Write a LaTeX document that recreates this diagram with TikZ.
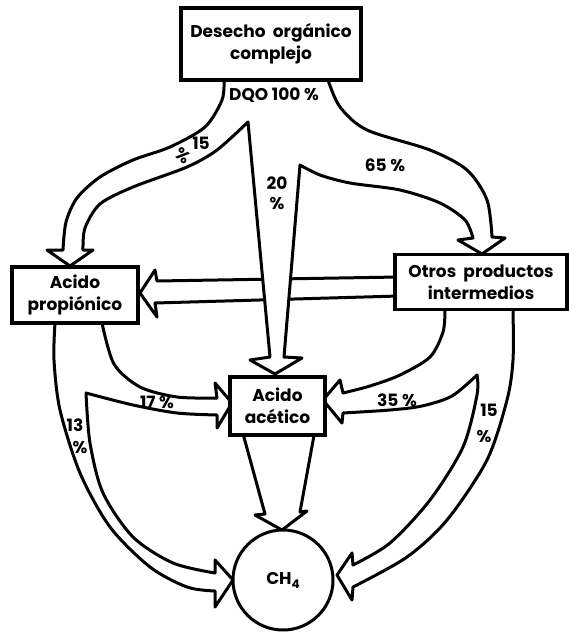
\documentclass[tikz,border=0pt]{standalone}
\usepackage{fontspec}
\setmainfont{Poppins}
\pgfdeclarelayer{bg}
\pgfsetlayers{bg,main}
\begin{document}
\begin{tikzpicture}[x=1pt,y=-1pt,
  box/.style={draw, line width=3.4pt, fill=white, align=center, inner sep=0pt,
              font=\fontsize{17}{22}\bfseries},
  band/.style={draw, line width=3pt, fill=white, line join=round},
  lbl/.style={font=\fontsize{17}{19}\bfseries, inner sep=0pt}]
\useasboundingbox (0,0) rectangle (569,637);

% boxes
\node[box, minimum width=180pt, minimum height=72pt] (top) at (271,44)
  {Desecho\ \ orgánico\\complejo};
\node[box, minimum width=126pt, minimum height=56pt] (prop) at (75,295)
  {Acido\\propiónico};
\node[box, minimum width=172pt, minimum height=55pt] (otros) at (481,282)
  {Otros\ \ productos\\intermedios};
\node[box, minimum width=95pt, minimum height=58pt] (acet) at (277.5,406)
  {Acido\\acético};
\node[box, circle, minimum size=100pt, line width=3pt] (ch4) at (283,580)
  {CH\raisebox{-4pt}{\fontsize{12}{12}\bfseries 4}};

\begin{pgfonlayer}{bg}
  % propionic acid fed from the intermediates
  \path[band] (399,277) -- (157,281) -- (155,270) -- (140,293) -- (157,317)
    -- (155,303) -- (399,296);
  % split of the waste stream: 15 %, 20 %, 65 %
  \path[band] (224,76)
    -- plot[smooth] coordinates {(224,80) (222,100) (205,127) (170,147) (133,160)
                                 (100,177) (77,198) (66,222) (63,250)}
    -- (47,250) -- (70,266) -- (93,250) -- (83,250)
    -- plot[smooth] coordinates {(83,250) (85,228) (100,204) (133,187) (187,167)
                                 (217,150) (248,122)}
    -- (270,357) -- (250,360) -- (275,374) -- (302,358) -- (284,357) -- (300,165)
    -- plot[smooth] coordinates {(300,165) (320,175) (350,183) (400,190) (440,203)
                                 (465,220) (473,238)}
    -- (458,240) -- (482,254) -- (505,238) -- (492,237)
    -- plot[smooth] coordinates {(492,237) (487,200) (467,170) (430,150) (367,130)
                                 (340,107) (328,80)}
    -- (328,76) -- cycle;
  % from propionic acid: 17 % to acetic acid, 13 % to methane
  \path[band] (55,318)
    -- plot[smooth] coordinates {(55,323) (54,360) (60,410) (80,473) (110,527)
                                 (150,567) (187,587) (215,591)}
    -- (215,607) -- (233,580) -- (215,560) -- (215,573)
    -- plot[smooth] coordinates {(215,573) (173,563) (133,537) (103,493) (90,443)
                                 (86,393)}
    -- plot[smooth] coordinates {(86,393) (133,405) (177,413) (217,415)}
    -- (217,428) -- (232,403) -- (215,383) -- (217,398)
    -- plot[smooth] coordinates {(217,398) (177,397) (140,387) (114,364) (102,323)}
    -- (102,318) -- cycle;
  % from the intermediates: 35 % to acetic acid, 15 % to methane
  \path[band] (445,305)
    -- plot[smooth] coordinates {(445,310) (443,332) (430,357) (400,375) (370,386)
                                 (343,393)}
    -- (340,380) -- (323,400) -- (342,423) -- (343,413)
    -- plot[smooth] coordinates {(343,413) (390,410) (422,406) (452,396) (477,375)}
    -- plot[smooth] coordinates {(477,375) (477,395) (463,447) (430,500) (390,543)
                                 (353,565)}
    -- (352,553) -- (337,575) -- (352,600) -- (353,587)
    -- plot[smooth] coordinates {(353,587) (407,557) (447,520) (487,460) (507,400)
                                 (513,360) (513,310)}
    -- (513,305) -- cycle;
  % acetic acid to methane
  \path[band] (242,430) -- (265,514) -- (255,515) -- (282,530) -- (307,511)
    -- (300,512) -- (315,430);
\end{pgfonlayer}

% percentages
\node[lbl] (dqo) at (274,95) {DQO 100 \%};
\node[lbl] (p15a) at (201,143) {15};
\node[lbl, rotate=-40] (p15b) at (183,156) {\%};
\node[lbl] (p20a) at (277,183) {20};
\node[lbl] (p20b) at (277,204) {\%};
\node[lbl] (p65) at (385,165) {65 \%};
\node[lbl] (p17) at (157,402) {17 \%};
\node[lbl] (p13a) at (75,425) {13};
\node[lbl] (p13b) at (80,448) {\%};
\node[lbl] (p35) at (397,400) {35 \%};
\node[lbl] (p15c) at (489,410) {15};
\node[lbl] (p15d) at (484,437) {\%};
\end{tikzpicture}
\end{document}
